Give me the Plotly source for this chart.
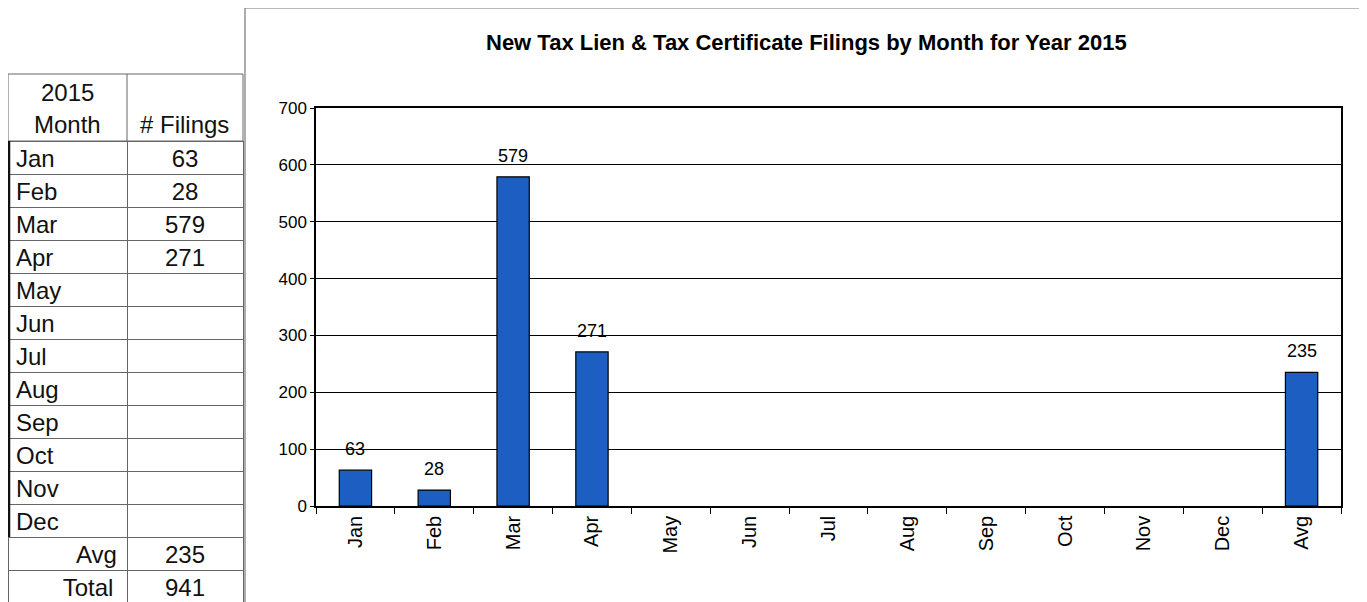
import plotly.graph_objects as go

# chart data
categories = ["Jan", "Feb", "Mar", "Apr", "May", "Jun", "Jul", "Aug", "Sep", "Oct", "Nov", "Dec", "Avg"]
filings = [63, 28, 579, 271, None, None, None, None, None, None, None, None, 235]

# table data
table_months = ["Jan", "Feb", "Mar", "Apr", "May", "Jun", "Jul", "Aug", "Sep", "Oct", "Nov", "Dec"]
table_filings = [63, 28, 579, 271, None, None, None, None, None, None, None, None]
avg_filings = 235
total_filings = 941

y_ticks = [0, 100, 200, 300, 400, 500, 600, 700]

W, H = 1367, 602
OFF = 8  # page body margin
ARIAL = "Liberation Sans, Arial, sans-serif"
BLUE = "#1d5ec2"
NB = "\u00a0"


def px_x(p):
    return (p - OFF) / W


def px_y(p):
    return (H - (p - OFF)) / H


fig = go.Figure()

fig.add_trace(go.Bar(
    x=categories,
    y=filings,
    marker=dict(color=BLUE, line=dict(color="black", width=1.2)),
    hoverinfo="x+y",
    showlegend=False,
))

# value labels above bars
for c, v in zip(categories, filings):
    if v is None:
        continue
    fig.add_annotation(x=c, y=v, text=str(v), showarrow=False,
                       yanchor="bottom", yshift=9,
                       font=dict(family=ARIAL, size=18, color="black"))

# table on the left (Avg / Total pushed right with non-breaking spaces)
col1 = table_months + [NB * 9 + "Avg", NB * 7 + "Total"]
col2 = ["" if v is None else str(v) for v in table_filings] + [str(avg_filings), str(total_filings)]
cell_font = dict(family=ARIAL, size=24, color="#111")
cell_line = dict(color="#666", width=1)

# first row (Jan) goes in the header slot so every row has the same height
fig.add_trace(go.Table(
    domain=dict(x=[px_x(8), px_x(243)], y=[0, px_y(141)]),
    columnwidth=[119, 116],
    header=dict(values=[col1[0], col2[0]], align=["left", "center"], height=33,
                line=cell_line, fill=dict(color="white"), font=cell_font),
    cells=dict(values=[col1[1:], col2[1:]], align=["left", "center"], height=33,
               line=cell_line, fill=dict(color="white"), font=cell_font),
))

# table header block
fig.add_shape(type="rect", xref="paper", yref="paper",
              x0=px_x(8), x1=px_x(243), y0=px_y(141), y1=px_y(74),
              line=dict(color="#666", width=1))
fig.add_shape(type="line", xref="paper", yref="paper",
              x0=px_x(127), x1=px_x(127), y0=px_y(141), y1=px_y(74),
              line=dict(color="#666", width=1))
for txt, xp, yp in [("2015", 67, 92), ("Month", 67, 124), ("# Filings", 185, 124)]:
    fig.add_annotation(text=txt, xref="paper", yref="paper", x=px_x(xp), y=px_y(yp),
                       xanchor="center", yanchor="middle", showarrow=False, font=cell_font)

# chart frame and table's heavy left edge
fig.add_shape(type="rect", xref="paper", yref="paper",
              x0=px_x(245), x1=px_x(1363), y0=-0.05, y1=px_y(8),
              line=dict(color="#777", width=1.2), layer="below")
fig.add_shape(type="line", xref="paper", yref="paper",
              x0=px_x(8.5), x1=px_x(8.5), y0=px_y(141), y1=px_y(537),
              line=dict(color="#111", width=3.5), layer="above")

fig.add_annotation(text="<b>New Tax Lien & Tax Certificate Filings by Month for Year 2015</b>",
                   xref="paper", yref="paper", x=px_x(806), y=px_y(43),
                   xanchor="center", yanchor="middle",
                   showarrow=False, font=dict(family=ARIAL, size=22, color="black"))

fig.update_layout(
    width=W, height=H,
    margin=dict(l=0, r=0, t=0, b=0, pad=0, autoexpand=False),
    paper_bgcolor="white",
    plot_bgcolor="white",
    bargap=0.59,
    xaxis=dict(
        domain=[px_x(316), px_x(1341)],
        automargin=False,
        showline=True, linecolor="black", linewidth=1.5, mirror=True,
        ticks="outside", tickson="boundaries", ticklen=6, tickcolor="black",
        tickangle=-90,
        tickfont=dict(family=ARIAL, size=20, color="black"),
        showgrid=False,
    ),
    yaxis=dict(
        domain=[px_y(506), px_y(108)],
        automargin=False,
        range=[0, 700],
        tickvals=y_ticks,
        showline=True, linecolor="black", linewidth=1.5, mirror=True,
        ticks="outside", ticklen=4, tickcolor="black",
        showgrid=True, gridcolor="black", gridwidth=1.3,
        zeroline=False,
        tickfont=dict(family=ARIAL, size=17, color="black"),
    ),
)

fig.write_html("out.html")
